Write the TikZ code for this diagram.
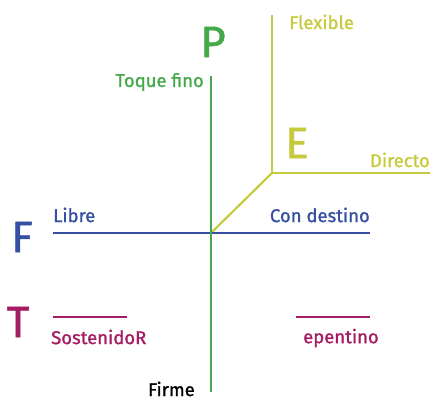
\documentclass[tikz,border=0pt]{standalone}
\usepackage{fontspec}
\setmainfont{Fira Sans}[FakeBold=1.2]
\definecolor{pgreen}{HTML}{45A84A}
\definecolor{eyellow}{HTML}{C6CB3E}
\definecolor{fblue}{HTML}{3550A3}
\definecolor{tmagenta}{HTML}{A51C62}

\begin{document}
\begin{tikzpicture}[x=1pt,y=-1pt]
  \tikzstyle{every node}=[inner sep=0pt]
  \tikzstyle{big}=[font=\fontsize{44}{44}\selectfont]
  \tikzstyle{lbl}=[font=\fontsize{18.5}{20}\selectfont]
  \tikzstyle{axis}=[line width=2.2pt]
  \useasboundingbox (0,0) rectangle (432,398);
% axis end points
  \coordinate (o)        at (211,233);
  \coordinate (ptop)     at (211, 76);
  \coordinate (pbot)     at (211,392);
  \coordinate (fleft)    at ( 53,233);
  \coordinate (fright)   at (370,233);
  \coordinate (ecorner)  at (272,173);
  \coordinate (etop)     at (272, 15);
  \coordinate (eright)   at (430,173);
  \coordinate (tla)      at ( 53,317);
  \coordinate (tlb)      at (127,317);
  \coordinate (tra)      at (296,317);
  \coordinate (trb)      at (370,317);
% big letters
  \node[big,text=pgreen]   (P) at (213, 42) {P};
  \node[big,text=eyellow]  (E) at (297,143) {E};
  \node[big,text=fblue]    (F) at ( 22,237) {F};
  \node[big,text=tmagenta] (T) at ( 18,322) {T};
% lines
  \draw[axis,eyellow] (o) -- (ecorner);
  \draw[axis,eyellow] (etop) -- (ecorner) -- (eright);
  \draw[axis,fblue] (fleft) -- (fright);
  \draw[axis,pgreen] (ptop) -- (pbot);
  \draw[axis,tmagenta] (tla) -- (tlb);
  \draw[axis,tmagenta] (tra) -- (trb);
% labels
  \node[lbl,text=pgreen,anchor=east]    (toque)    at (204, 82) {Toque fino};
  \node[lbl,anchor=east]                (firme)    at (195,389) {Firme};
  \node[lbl,text=eyellow,anchor=west]   (flexible) at (289, 22) {Flexible};
  \node[lbl,text=eyellow,anchor=east]   (directo)  at (430,160) {Directo};
  \node[lbl,text=fblue,anchor=west]     (libre)    at ( 53,215) {Libre};
  \node[lbl,text=fblue,anchor=east]     (destino)  at (370,215) {Con destino};
  \node[lbl,text=tmagenta,anchor=west]  (sost)     at ( 51,337) {SostenidoR};
  \node[lbl,text=tmagenta,anchor=west]  (epent)    at (303,338) {epentino};
\end{tikzpicture}
\end{document}
